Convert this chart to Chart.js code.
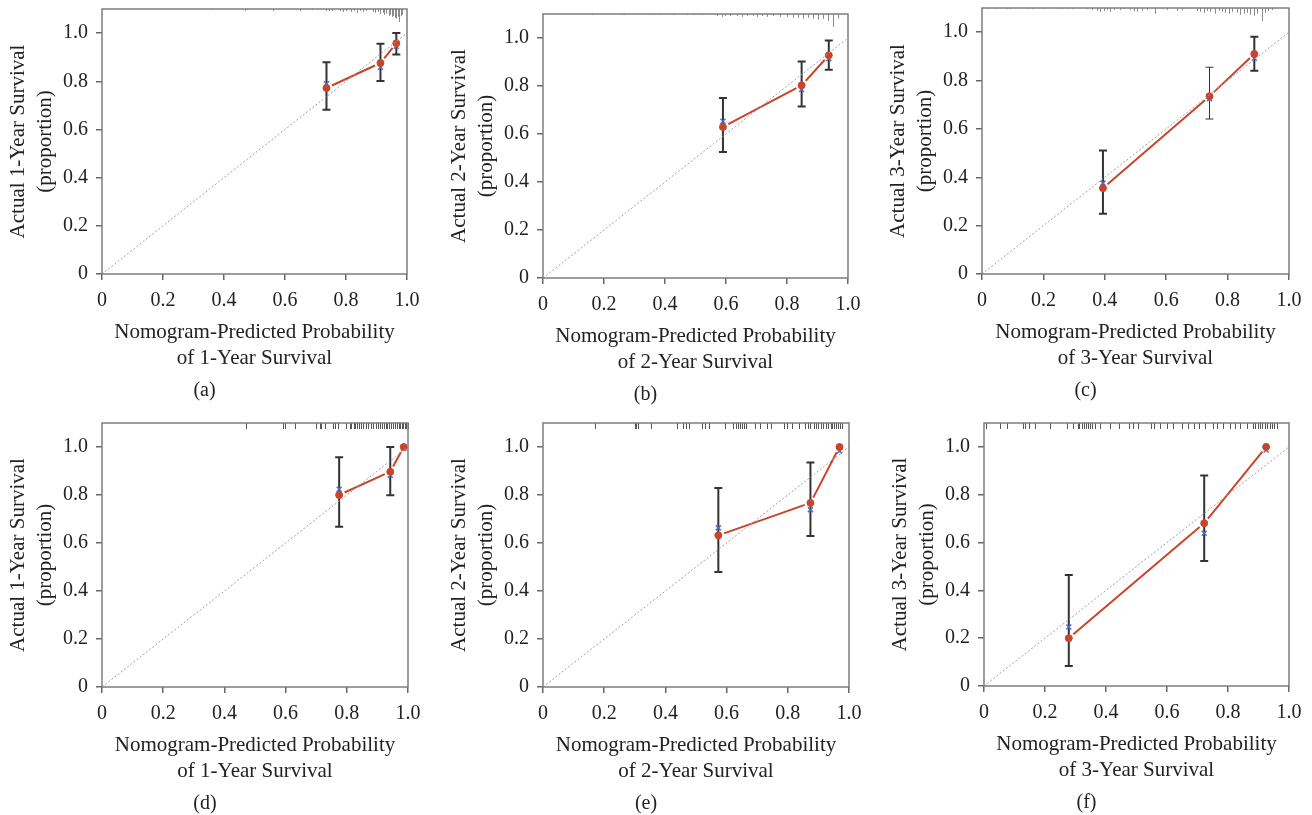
<!DOCTYPE html>
<html>
<head>
<meta charset="utf-8">
<script src="https://cdn.jsdelivr.net/npm/chart.js@4.4.1/dist/chart.umd.min.js"></script>
<style>
  html, body { margin: 0; padding: 0; background: #fff; }
  #wrap { position: relative; width: 1312px; height: 815px; overflow: hidden; }
  #wrap canvas { position: absolute; }
</style>
</head>
<body>
<div id="wrap"></div>
<script>
const xTicks = [0, 0.2, 0.4, 0.6, 0.8, 1.0];
const yTicks = [0, 0.2, 0.4, 0.6, 0.8, 1.0];
const panelLabels = ["(a)", "(b)", "(c)", "(d)", "(e)", "(f)"];
const years = ["1", "2", "3", "1", "2", "3"];

// (a) training, 1-year
const predA = [0.736, 0.913, 0.965];
const obsA = [0.772, 0.876, 0.958];
const corrA = [0.790, 0.858, 0.945];
const lowA = [0.682, 0.801, 0.911];
const highA = [0.879, 0.956, 1.0];
const rugXA = [0.36, 0.47, 0.475, 0.56, 0.65, 0.69, 0.735, 0.745, 0.755, 0.78, 0.79, 0.80, 0.815, 0.825, 0.835, 0.845, 0.855, 0.865, 0.89, 0.895, 0.905, 0.91, 0.92, 0.925, 0.93, 0.94, 0.945, 0.95, 0.955, 0.96, 0.965, 0.97, 0.975, 0.98, 0.985];
const rugLenA = [0.004, 0.008, 0.004, 0.008, 0.008, 0.004, 0.008, 0.008, 0.008, 0.008, 0.012, 0.008, 0.012, 0.008, 0.016, 0.008, 0.012, 0.008, 0.012, 0.016, 0.012, 0.02, 0.016, 0.024, 0.02, 0.028, 0.024, 0.032, 0.028, 0.036, 0.04, 0.032, 0.054, 0.03, 0.024];

// (b) training, 2-year
const predB = [0.590, 0.848, 0.937];
const obsB = [0.629, 0.803, 0.928];
const corrB = [0.653, 0.785, 0.914];
const lowB = [0.525, 0.715, 0.868];
const highB = [0.750, 0.902, 0.990];
const rugXB = [0.16, 0.259, 0.264, 0.351, 0.362, 0.379, 0.428, 0.471, 0.493, 0.51, 0.526, 0.57, 0.586, 0.597, 0.613, 0.635, 0.652, 0.668, 0.69, 0.701, 0.717, 0.734, 0.755, 0.777, 0.799, 0.821, 0.837, 0.854, 0.87, 0.886, 0.903, 0.919, 0.936, 0.952, 0.968];
const rugLenB = [0.004, 0.004, 0.004, 0.004, 0.004, 0.004, 0.004, 0.004, 0.004, 0.004, 0.004, 0.008, 0.012, 0.008, 0.008, 0.008, 0.012, 0.008, 0.008, 0.012, 0.008, 0.012, 0.008, 0.012, 0.012, 0.016, 0.016, 0.02, 0.016, 0.02, 0.024, 0.02, 0.028, 0.054, 0.02];

// (c) training, 3-year
const predC = [0.394, 0.741, 0.887];
const obsC = [0.355, 0.735, 0.910];
const corrC = [0.376, 0.725, 0.892];
const lowC = [0.249, 0.641, 0.841];
const highC = [0.511, 0.855, 0.981];
const rugXC = [0.016, 0.043, 0.081, 0.092, 0.147, 0.163, 0.201, 0.25, 0.26, 0.277, 0.293, 0.342, 0.358, 0.375, 0.385, 0.396, 0.407, 0.418, 0.429, 0.45, 0.461, 0.483, 0.494, 0.505, 0.521, 0.537, 0.565, 0.586, 0.602, 0.635, 0.651, 0.662, 0.678, 0.70, 0.711, 0.722, 0.733, 0.743, 0.76, 0.771, 0.781, 0.792, 0.803, 0.814, 0.83, 0.841, 0.852, 0.863, 0.874, 0.885, 0.895, 0.912, 0.923, 0.933, 0.944];
const rugLenC = [0.004, 0.004, 0.004, 0.004, 0.004, 0.004, 0.004, 0.004, 0.004, 0.004, 0.004, 0.004, 0.008, 0.012, 0.016, 0.012, 0.008, 0.016, 0.008, 0.008, 0.004, 0.008, 0.012, 0.016, 0.012, 0.008, 0.024, 0.004, 0.008, 0.012, 0.008, 0.004, 0.004, 0.012, 0.016, 0.02, 0.012, 0.016, 0.024, 0.012, 0.016, 0.02, 0.024, 0.016, 0.02, 0.028, 0.024, 0.02, 0.028, 0.032, 0.024, 0.054, 0.02, 0.012, 0.008];

// (d) validation, 1-year
const predD = [0.775, 0.942, 0.986];
const obsD = [0.800, 0.897, 1.0];
const corrD = [0.824, 0.882, 0.995];
const lowD = [0.668, 0.799, 1.0];
const highD = [0.957, 1.0, 1.0];
const rugXD = [0.469, 0.592, 0.597, 0.630, 0.700, 0.711, 0.717, 0.728, 0.755, 0.761, 0.771, 0.798, 0.809, 0.815, 0.822, 0.828, 0.834, 0.840, 0.847, 0.853, 0.864, 0.870, 0.880, 0.886, 0.897, 0.903, 0.909, 0.915, 0.921, 0.927, 0.933, 0.939, 0.945, 0.951, 0.957, 0.963, 0.969, 0.975, 0.980, 0.985, 0.990, 0.995, 1.0];

// (e) validation, 2-year
const predE = [0.573, 0.874, 0.969];
const obsE = [0.632, 0.767, 1.0];
const corrE = [0.663, 0.739, 0.983];
const lowE = [0.479, 0.629, 1.0];
const highE = [0.829, 0.935, 1.0];
const rugXE = [0.170, 0.300, 0.305, 0.312, 0.352, 0.439, 0.459, 0.467, 0.478, 0.521, 0.530, 0.544, 0.595, 0.622, 0.630, 0.637, 0.644, 0.650, 0.657, 0.664, 0.693, 0.710, 0.732, 0.746, 0.786, 0.797, 0.813, 0.835, 0.857, 0.865, 0.873, 0.884, 0.892, 0.900, 0.908, 0.916, 0.924, 0.932, 0.940, 0.946, 0.952, 0.958, 0.964, 0.970, 0.977];

// (f) validation, 3-year
const predF = [0.278, 0.722, 0.925];
const obsF = [0.200, 0.681, 1.0];
const corrF = [0.247, 0.639, 0.987];
const lowF = [0.084, 0.523, 1.0];
const highF = [0.464, 0.880, 1.0];
const rugXF = [0.008, 0.053, 0.077, 0.128, 0.136, 0.146, 0.168, 0.215, 0.272, 0.291, 0.307, 0.313, 0.320, 0.327, 0.334, 0.341, 0.348, 0.355, 0.365, 0.381, 0.414, 0.444, 0.474, 0.490, 0.506, 0.547, 0.556, 0.577, 0.599, 0.621, 0.648, 0.670, 0.687, 0.706, 0.725, 0.752, 0.763, 0.785, 0.807, 0.823, 0.840, 0.861, 0.881, 0.889, 0.897, 0.905, 0.913, 0.921, 0.929, 0.937, 0.945, 0.952, 0.960];

const FONT = "'Liberation Serif', 'Times New Roman', serif";
const RED = "#c8452b";
const BLUE = "#4a6fc8";

// chart area geometry (left, top, width, height) per panel
const panels = [
  { L: 102, T: 9, W: 305, H: 265, pred: predA, obs: obsA, corr: corrA, low: lowA, high: highA, rugX: rugXA, rugLen: rugLenA },
  { L: 543, T: 14, W: 305, H: 264, pred: predB, obs: obsB, corr: corrB, low: lowB, high: highB, rugX: rugXB, rugLen: rugLenB },
  { L: 982, T: 8, W: 307, H: 266, pred: predC, obs: obsC, corr: corrC, low: lowC, high: highC, rugX: rugXC, rugLen: rugLenC, errW: [2, 1, 2] },
  { L: 102, T: 423, W: 306, H: 264, pred: predD, obs: obsD, corr: corrD, low: lowD, high: highD, rugX: rugXD },
  { L: 543, T: 423, W: 306, H: 264, pred: predE, obs: obsE, corr: corrE, low: lowE, high: highE, rugX: rugXE },
  { L: 984, T: 423, W: 305, H: 263, pred: predF, obs: obsF, corr: corrF, low: lowF, high: highF, rugX: rugXF }
];

const Y_W = 100, X_H = 105, PAD_T = 6, PAD_R = 22, TITLE_H = 24, PAD_B = 2;

const calibPlugin = {
  id: "calib",
  beforeDatasetsDraw(chart, args, opts) {
    const { ctx, scales: { x, y } } = chart;
    ctx.save();
    // rug / risk distribution along the top
    ctx.strokeStyle = opts.rugLen ? "#8a8a8a" : "#555";
    ctx.lineWidth = 1;
    opts.rugX.forEach((v, i) => {
      const px = Math.round(x.getPixelForValue(v)) + 0.5;
      const len = opts.rugLen ? opts.rugLen[i] : 0.025;
      ctx.beginPath();
      ctx.moveTo(px, y.getPixelForValue(1.1));
      ctx.lineTo(px, y.getPixelForValue(1.1 - len));
      ctx.stroke();
    });
    // error bars
    ctx.strokeStyle = "#333";
    opts.pred.forEach((v, i) => {
      if (opts.high[i] - opts.low[i] < 0.005) return;
      const px = x.getPixelForValue(v);
      const y1 = y.getPixelForValue(opts.high[i]);
      const y2 = y.getPixelForValue(opts.low[i]);
      ctx.lineWidth = opts.errW ? opts.errW[i] : 2;
      ctx.beginPath();
      ctx.moveTo(px, y1); ctx.lineTo(px, y2);
      ctx.moveTo(px - 4, y1); ctx.lineTo(px + 4, y1);
      ctx.moveTo(px - 4, y2); ctx.lineTo(px + 4, y2);
      ctx.stroke();
    });
    // observed line, type "b": segments that stop short of each point
    ctx.strokeStyle = RED;
    ctx.lineWidth = 2;
    for (let i = 0; i < opts.pred.length - 1; i++) {
      const x1 = x.getPixelForValue(opts.pred[i]), y1 = y.getPixelForValue(opts.obs[i]);
      const x2 = x.getPixelForValue(opts.pred[i + 1]), y2 = y.getPixelForValue(opts.obs[i + 1]);
      const d = Math.hypot(x2 - x1, y2 - y1), g = Math.min(6, d / 3);
      const ux = (x2 - x1) / d, uy = (y2 - y1) / d;
      ctx.beginPath();
      ctx.moveTo(x1 + ux * g, y1 + uy * g);
      ctx.lineTo(x2 - ux * g, y2 - uy * g);
      ctx.stroke();
    }
    ctx.restore();
  },
  afterDraw(chart) {
    const { ctx, chartArea: a } = chart;
    ctx.save();
    ctx.strokeStyle = "#7d7d7d";
    ctx.lineWidth = 1.5;
    ctx.strokeRect(a.left, a.top, a.right - a.left, a.bottom - a.top);
    ctx.restore();
  }
};

const fmt = (v) => (v === 0 ? "0" : v.toFixed(1));
const wrap = document.getElementById("wrap");

panels.forEach((p, k) => {
  const canvas = document.createElement("canvas");
  const cw = Y_W + p.W + PAD_R;
  const ch = PAD_T + p.H + X_H + TITLE_H + PAD_B;
  canvas.width = cw;
  canvas.height = ch;
  canvas.style.width = cw + "px";
  canvas.style.height = ch + "px";
  canvas.style.left = (p.L - Y_W) + "px";
  canvas.style.top = (p.T - PAD_T) + "px";
  wrap.appendChild(canvas);

  new Chart(canvas.getContext("2d"), {
    type: "scatter",
    data: {
      datasets: [
        {
          type: "line",
          data: [{ x: 0, y: 0 }, { x: 1, y: 1 }],
          borderColor: "#a0a0a0",
          borderWidth: 1,
          borderDash: [2, 2],
          pointRadius: 0
        },
        {
          data: p.pred.map((v, i) => ({ x: v, y: p.obs[i] })),
          pointRadius: 3.5,
          pointBackgroundColor: RED,
          pointBorderColor: RED
        },
        {
          data: p.pred.map((v, i) => ({ x: v, y: p.corr[i] })),
          pointStyle: "crossRot",
          pointRadius: 3.5,
          pointBorderColor: BLUE,
          pointBorderWidth: 1.5
        }
      ]
    },
    options: {
      responsive: false,
      animation: false,
      devicePixelRatio: 1,
      layout: { padding: { top: PAD_T, right: PAD_R, bottom: PAD_B, left: 0 } },
      plugins: {
        legend: { display: false },
        tooltip: { enabled: false },
        title: {
          display: true,
          position: "bottom",
          text: panelLabels[k],
          color: "#222",
          padding: 0,
          font: { family: FONT, size: 20, weight: "normal", lineHeight: 1.2 }
        },
        calib: p
      },
      scales: {
        x: {
          type: "linear",
          min: 0,
          max: 1,
          afterBuildTicks: (s) => { s.ticks = xTicks.map((v) => ({ value: v })); },
          afterFit: (s) => { s.height = X_H; s.paddingLeft = 0; s.paddingRight = 0; },
          ticks: { callback: fmt, color: "#222", padding: 9, maxRotation: 0, font: { family: FONT, size: 20 } },
          grid: { display: true, drawOnChartArea: false, drawTicks: true, tickLength: 6, color: "#666", lineWidth: 1.5 },
          border: { display: false },
          title: {
            display: true,
            text: ["Nomogram-Predicted Probability", "of " + years[k] + "-Year Survival"],
            color: "#222",
            padding: { top: 0, bottom: 7 },
            font: { family: FONT, size: 21, lineHeight: 1.26 }
          }
        },
        y: {
          type: "linear",
          min: 0,
          max: 1.1,
          afterBuildTicks: (s) => { s.ticks = yTicks.map((v) => ({ value: v })); },
          afterFit: (s) => { s.width = Y_W; s.paddingTop = 0; s.paddingBottom = 0; },
          ticks: { callback: fmt, color: "#222", padding: 8, font: { family: FONT, size: 20 } },
          grid: { display: true, drawOnChartArea: false, drawTicks: true, tickLength: 6, color: "#666", lineWidth: 1.5 },
          border: { display: false },
          title: {
            display: true,
            text: ["Actual " + years[k] + "-Year Survival", "(proportion)"],
            color: "#222",
            padding: { top: 3, bottom: 0 },
            font: { family: FONT, size: 21, lineHeight: 1.3 }
          }
        }
      }
    },
    plugins: [calibPlugin]
  });
});
</script>
</body>
</html>
